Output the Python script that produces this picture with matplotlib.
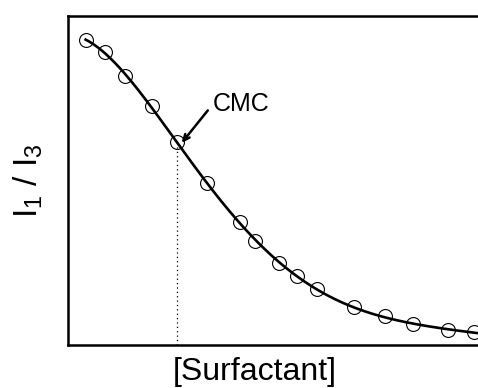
import numpy as np
import matplotlib
matplotlib.use("Agg")
import matplotlib.pyplot as plt

plt.rcParams['font.family'] = ['Liberation Sans', 'DejaVu Sans']
plt.rcParams['mathtext.fontset'] = 'custom'
plt.rcParams['mathtext.rm'] = 'Liberation Sans'
plt.rcParams['mathtext.it'] = 'Liberation Sans'

# Surfactant concentration (arbitrary units) and pyrene I1/I3 ratio
concentration = [0.43, 0.90, 1.39, 2.04, 2.65, 3.40, 4.19, 4.56,
                 5.14, 5.59, 6.07, 6.98, 7.72, 8.41, 9.26, 9.90]
ratio = [1.927, 1.889, 1.815, 1.724, 1.617, 1.492, 1.374, 1.315,
         1.249, 1.209, 1.169, 1.114, 1.088, 1.064, 1.045, 1.039]

cmc_conc = 2.65
cmc_ratio = 1.617

fig = plt.figure(figsize=(4.78, 3.88), dpi=100)
ax = fig.add_axes([68/478, 1 - 345/388, 1 - 68/478, (345 - 15.5)/388])

# smooth fitted trend through the measurements
coef = np.polyfit(concentration, ratio, 5)
xs = np.linspace(concentration[0], 10.0, 300)
ax.plot(xs, np.polyval(coef, xs), color='black', lw=1.9, zorder=2)

ax.plot(concentration, ratio, linestyle='none', marker='o', markersize=10,
        markerfacecolor='none', markeredgecolor='black', markeredgewidth=0.8,
        zorder=3, clip_on=False)

# CMC marker: dotted drop line, label and arrow
ax.plot([cmc_conc, cmc_conc], [1.0, cmc_ratio], color='black', lw=0.9,
        linestyle=(0, (1, 2.5)), zorder=1)
ax.text(3.54, 1.732, 'CMC', fontsize=18, va='center', ha='left')
ax.annotate('', xy=(cmc_conc + 0.12, cmc_ratio - 0.004),
            xytext=(3.41, 1.712),
            arrowprops=dict(arrowstyle='->,head_length=0.45,head_width=0.2',
                            color='black', lw=1.8, shrinkA=0, shrinkB=0))

ax.set_xlim(0, 10)
ax.set_ylim(1.0, 2.0)
ax.set_xticks([])
ax.set_yticks([])
ax.spines['right'].set_visible(False)
for s in ('left', 'top', 'bottom'):
    ax.spines[s].set_linewidth(1.8)

ax.set_xlabel('[Surfactant]', fontsize=23)
ax.xaxis.set_label_coords((255 - 68) / (478 - 68), -(372 - 345) / (345 - 15.5))
ax.xaxis.label.set_va('center')
ax.set_ylabel(r'I$_1$ / I$_3$', fontsize=24)
ax.yaxis.set_label_coords(-(68 - 28) / (478 - 68), 0.5)
ax.yaxis.label.set_va('center')

fig.savefig('out.png', dpi=100)
